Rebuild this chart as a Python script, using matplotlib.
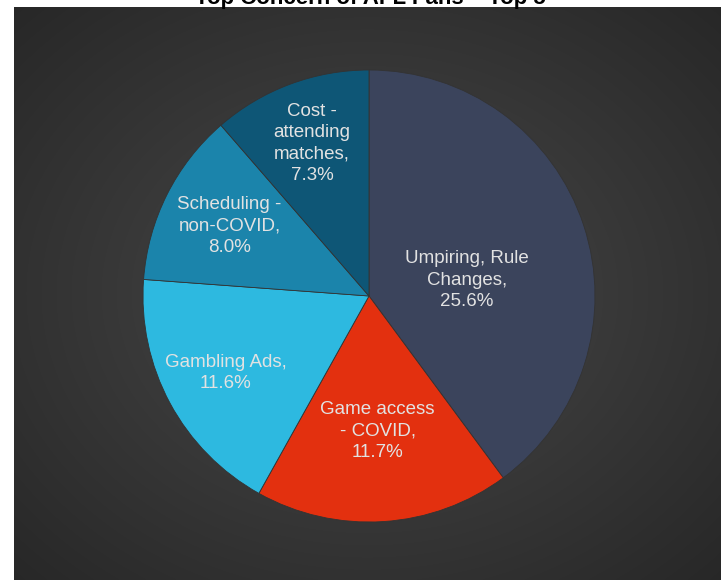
import numpy as np
import matplotlib
matplotlib.use("Agg")
import matplotlib.pyplot as plt

plt.rcParams['font.family'] = ['Liberation Sans', 'DejaVu Sans']

# data
labels = ["Umpiring, Rule\nChanges", "Game access\n- COVID", "Gambling Ads",
          "Scheduling -\nnon-COVID", "Cost -\nattending\nmatches"]
values = [25.6, 11.7, 11.6, 8.0, 7.3]
colors = ["#3b445c", "#e3300f", "#2db9e0", "#1b84ab", "#0e5676"]
lbl_r = [0.44, 0.60, 0.72, 0.69, 0.72]
lbl_dang = [-9, 0, 0, 0, 0]

W, H = 727, 580
fig = plt.figure(figsize=(W / 100, H / 100), dpi=100)
fig.patch.set_facecolor("white")

# dark radial gradient panel
bg = fig.add_axes([14 / W, 0, (721 - 14) / W, (H - 7) / H])
yy, xx = np.mgrid[-1:1:300j, -1:1:360j]
rr = np.sqrt(xx ** 2 + yy ** 2) / np.sqrt(2)
shade = 0.285 - 0.13 * rr
img = np.dstack([shade, shade, shade])
bg.imshow(img, aspect="auto", extent=[0, 1, 0, 1], interpolation="bilinear")
bg.set_axis_off()

# pie
cx, cy, R = 369, 296, 226
ax = fig.add_axes([(cx - R) / W, (H - cy - R) / H, 2 * R / W, 2 * R / H])
wedges, _ = ax.pie(values, colors=colors, startangle=90, counterclock=False,
                   radius=1.0, wedgeprops=dict(edgecolor="#333333", linewidth=0.6))
ax.set_xlim(-1, 1)
ax.set_ylim(-1, 1)
ax.set_aspect("auto")
ax.set_axis_off()

for w, lab, v, r, da in zip(wedges, labels, values, lbl_r, lbl_dang):
    ang = np.deg2rad((w.theta1 + w.theta2) / 2 + da)
    ax.text(r * np.cos(ang), r * np.sin(ang), "%s,\n%.1f%%" % (lab, v),
            ha="center", va="center", color="#e2e2e2", fontsize=13.5,
            linespacing=1.35)

fig.text(370 / W, 1 - 4 / H, "Top Concern of AFL Fans \u2013 Top 5", ha="center",
         va="baseline", fontsize=16, fontweight="bold", color="black")

fig.savefig("out.png", dpi=100)
